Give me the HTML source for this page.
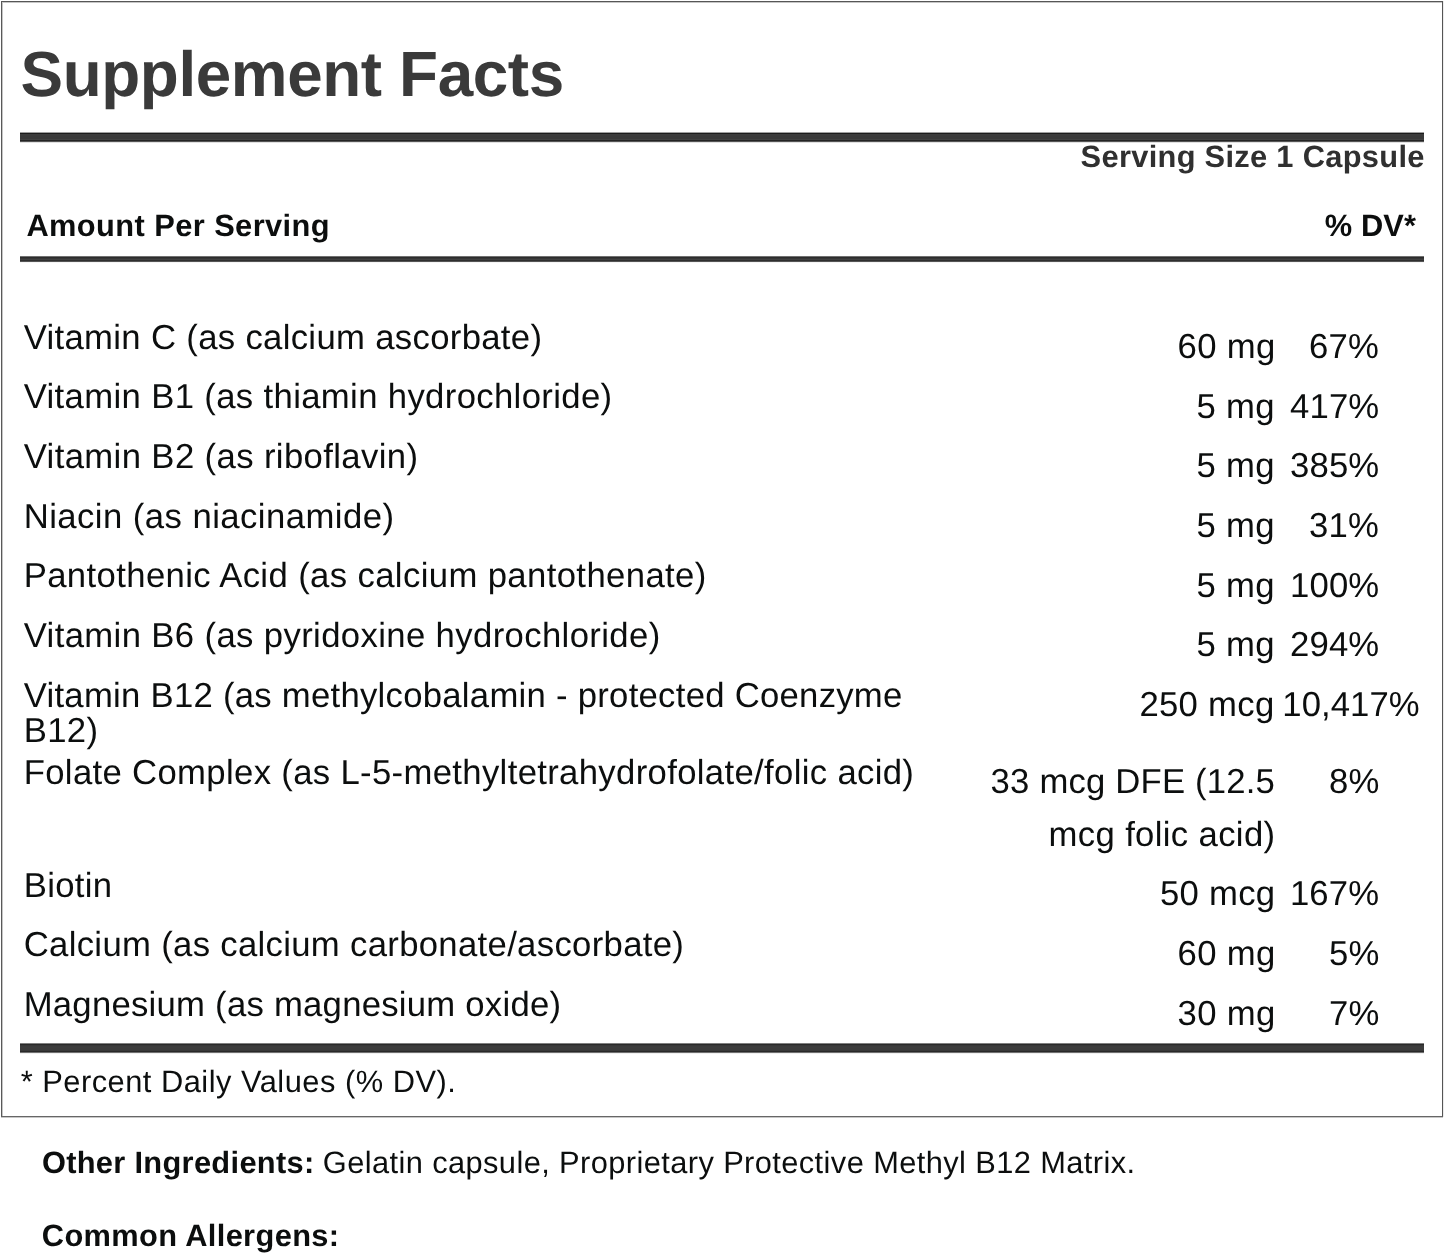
<!DOCTYPE html>
<html lang="en">
<head>
<meta charset="utf-8">
<title>Supplement Facts</title>
<style>
html,body{margin:0;padding:0;background:#fff;}
body{width:1445px;height:1254px;position:relative;overflow:hidden;font-family:"Liberation Sans",sans-serif;color:#0c0e0e;text-rendering:geometricPrecision;}
.t{position:absolute;margin:0;padding:0;white-space:nowrap;font-weight:400;}
.b{font-weight:700;}
.g{color:#3a3a3a;}
.s0{font-size:63.80px;line-height:72px;}
.s1{font-size:30.80px;line-height:36px;}
.s2{font-size:34.70px;line-height:40px;}
.r{position:absolute;background:#3b3b3b;}
.box{position:absolute;box-sizing:border-box;left:1px;top:1px;width:1442px;height:1116px;border:1px solid;border-color:#565656 #555555 #666666 #595959;box-shadow:inset 1px 1px 0 0 #c6c6c6, 0 1px 0 0 #c8c8c8, 1px 0 0 0 #ececec;}
</style>
</head>
<body>
<div class="box"></div>
<div class="r" style="left:20px;top:132px;width:1404px;height:11px;background:linear-gradient(to bottom,#a0a0a0 0px 1px,#1c1c1c 1px 2px,#3c3c3c 2px 3px,#3b3b3b 3px 4px,#3a3a3a 4px 5px,#3a3a3a 5px 6px,#3a3a3a 6px 7px,#424242 7px 8px,#232323 8px 9px,#555555 9px 10px,#e0e0e0 10px 11px)"></div>
<div class="r" style="left:20px;top:256px;width:1404px;height:7px;background:linear-gradient(to bottom,#707070 0px 1px,#2c2c2c 1px 2px,#363636 2px 3px,#404040 3px 4px,#2e2e2e 4px 5px,#555555 5px 6px,#f5f5f5 6px 7px)"></div>
<div class="r" style="left:20px;top:1043px;width:1404px;height:11px;background:linear-gradient(to bottom,#808080 0px 1px,#2a2a2a 1px 2px,#383838 2px 3px,#3c3c3c 3px 4px,#3d3d3d 4px 5px,#3c3c3c 5px 6px,#3c3c3c 6px 7px,#383838 7px 8px,#282828 8px 9px,#707070 9px 10px,#f0f0f0 10px 11px)"></div>
<h1 class="t s0 b g" style="left:20.50px;top:38px;letter-spacing:-0.387px;">Supplement Facts</h1>
<div class="t s1 b" style="left:1080.60px;top:139px;color:#303030;letter-spacing:0.314px;">Serving Size 1 Capsule</div>
<div class="t s1 b" style="left:26.40px;top:208px;letter-spacing:0.424px;">Amount Per Serving</div>
<div class="t s1 b" style="left:1324.80px;top:208px;letter-spacing:0.100px;">% DV*</div>
<div class="t s2" style="left:23.70px;top:318px;letter-spacing:0.323px;">Vitamin C (as calcium ascorbate)</div>
<div class="t s2" style="left:23.70px;top:377px;letter-spacing:0.350px;">Vitamin B1 (as thiamin hydrochloride)</div>
<div class="t s2" style="left:23.70px;top:437px;letter-spacing:0.376px;">Vitamin B2 (as riboflavin)</div>
<div class="t s2" style="left:23.70px;top:497px;letter-spacing:0.445px;">Niacin (as niacinamide)</div>
<div class="t s2" style="left:23.70px;top:556px;letter-spacing:0.376px;">Pantothenic Acid (as calcium pantothenate)</div>
<div class="t s2" style="left:23.70px;top:616px;letter-spacing:0.369px;">Vitamin B6 (as pyridoxine hydrochloride)</div>
<div class="t s2" style="left:23.70px;top:676px;letter-spacing:0.267px;">Vitamin B12 (as methylcobalamin - protected Coenzyme</div>
<div class="t s2" style="left:23.70px;top:711px;letter-spacing:0.330px;">B12)</div>
<div class="t s2" style="left:23.70px;top:753px;letter-spacing:0.336px;">Folate Complex (as L-5-methyltetrahydrofolate/folic acid)</div>
<div class="t s2" style="left:23.70px;top:866px;letter-spacing:0.330px;">Biotin</div>
<div class="t s2" style="left:23.70px;top:925px;letter-spacing:0.318px;">Calcium (as calcium carbonate/ascorbate)</div>
<div class="t s2" style="left:23.70px;top:985px;letter-spacing:0.248px;">Magnesium (as magnesium oxide)</div>
<div class="t s2" style="left:1177.60px;top:327px;letter-spacing:0.300px;">60 mg</div>
<div class="t s2" style="left:1196.60px;top:387px;letter-spacing:0.300px;">5 mg</div>
<div class="t s2" style="left:1196.60px;top:446px;letter-spacing:0.300px;">5 mg</div>
<div class="t s2" style="left:1196.60px;top:506px;letter-spacing:0.300px;">5 mg</div>
<div class="t s2" style="left:1196.60px;top:566px;letter-spacing:0.300px;">5 mg</div>
<div class="t s2" style="left:1196.60px;top:625px;letter-spacing:0.300px;">5 mg</div>
<div class="t s2" style="left:1139.40px;top:685px;letter-spacing:0.300px;">250 mcg</div>
<div class="t s2" style="left:990.60px;top:762px;letter-spacing:0.187px;">33 mcg DFE (12.5</div>
<div class="t s2" style="left:1048.60px;top:815px;letter-spacing:0.343px;">mcg folic acid)</div>
<div class="t s2" style="left:1159.90px;top:874px;letter-spacing:0.300px;">50 mcg</div>
<div class="t s2" style="left:1177.60px;top:934px;letter-spacing:0.300px;">60 mg</div>
<div class="t s2" style="left:1177.60px;top:994px;letter-spacing:0.300px;">30 mg</div>
<div class="t s2" style="left:1309.00px;top:327px;letter-spacing:0.150px;">67%</div>
<div class="t s2" style="left:1290.00px;top:387px;letter-spacing:0.150px;">417%</div>
<div class="t s2" style="left:1290.00px;top:446px;letter-spacing:0.150px;">385%</div>
<div class="t s2" style="left:1309.00px;top:506px;letter-spacing:0.150px;">31%</div>
<div class="t s2" style="left:1290.00px;top:566px;letter-spacing:0.150px;">100%</div>
<div class="t s2" style="left:1290.00px;top:625px;letter-spacing:0.150px;">294%</div>
<div class="t s2" style="left:1282.30px;top:685px;letter-spacing:0.067px;">10,417%</div>
<div class="t s2" style="left:1329.00px;top:762px;letter-spacing:0.150px;">8%</div>
<div class="t s2" style="left:1289.90px;top:874px;letter-spacing:0.150px;">167%</div>
<div class="t s2" style="left:1329.00px;top:934px;letter-spacing:0.150px;">5%</div>
<div class="t s2" style="left:1329.00px;top:994px;letter-spacing:0.150px;">7%</div>
<div class="t s1" style="left:20.70px;top:1064px;letter-spacing:0.503px;">* Percent Daily Values (% DV).</div>
<div class="t s1 b" style="left:41.90px;top:1145px;letter-spacing:0.318px;">Other Ingredients:</div>
<div class="t s1" style="left:322.80px;top:1145px;letter-spacing:0.407px;">Gelatin capsule, Proprietary Protective Methyl B12 Matrix.</div>
<div class="t s1 b" style="left:41.80px;top:1218px;letter-spacing:0.362px;">Common Allergens:</div>
</body>
</html>
